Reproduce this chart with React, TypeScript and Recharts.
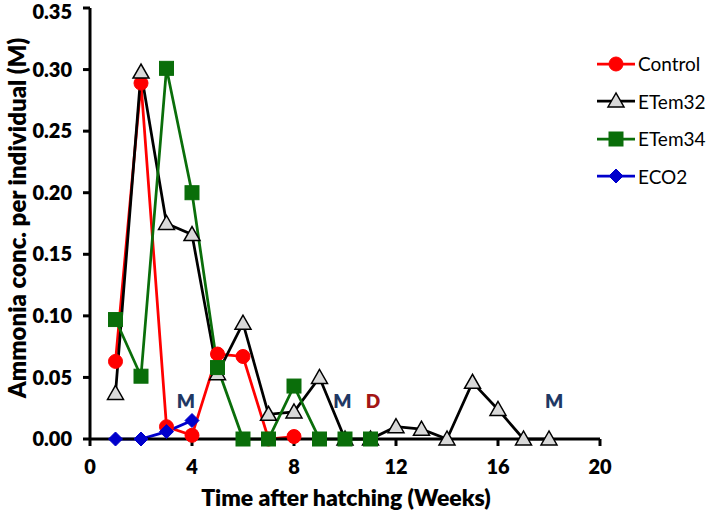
import { LineChart, Line, XAxis, YAxis, Legend, ReferenceDot } from "recharts"

const weeks = [1, 2, 3, 4, 5, 6, 7, 8, 9, 10, 11, 12, 13, 14, 15, 16, 17, 18]
const controlValues = [0.063, 0.289, 0.01, 0.003, 0.069, 0.067, 0, 0.002]
const etem32Values = [0.037, 0.298, 0.175, 0.166, 0.053, 0.094, 0.02, 0.022, 0.05, 0, 0, 0.01, 0.008, 0, 0.046, 0.024, 0, 0]
const etem34Values = [0.097, 0.051, 0.301, 0.2, 0.058, 0, 0, 0.043, 0, 0, 0]
const eco2Values = [0, 0, 0.006, 0.015]
const xTicks = [0, 4, 8, 12, 16, 20]
const yTicks = [0, 0.05, 0.1, 0.15, 0.2, 0.25, 0.3, 0.35]
const notes = [
    { week: 3.76, value: 0.031, text: "M", color: "#1f3864" },
    { week: 9.9, value: 0.031, text: "M", color: "#1f3864" },
    { week: 11.1, value: 0.031, text: "D", color: "#a31515" },
    { week: 18.2, value: 0.031, text: "M", color: "#1f3864" },
]

const toRows = (vals: number[]) => vals.map((v, i) => ({ week: weeks[i], value: v }))

const RED = "#ff0000"
const GREEN = "#0a6e0a"
const BLUE = "#0000cc"
const FONT = "Lato, 'Liberation Sans', sans-serif"

type Kind = "circle" | "triangle" | "square" | "diamond"

const Marker = ({ kind, cx, cy }: { kind: Kind; cx: number; cy: number }) => {
    if (kind === "circle") return <circle cx={cx} cy={cy} r={7} fill={RED} stroke={RED} strokeWidth={1} />
    if (kind === "triangle")
        return (
            <polygon
                points={`${cx},${cy - 8} ${cx - 8},${cy + 6} ${cx + 8},${cy + 6}`}
                fill="#d9d9d9"
                stroke="#000"
                strokeWidth={1.5}
            />
        )
    if (kind === "square") return <rect x={cx - 7} y={cy - 7} width={14} height={14} fill={GREEN} stroke={GREEN} />
    return <polygon points={`${cx},${cy - 7} ${cx + 7},${cy} ${cx},${cy + 7} ${cx - 7},${cy}`} fill={BLUE} stroke={BLUE} />
}

const dotFor = (kind: Kind) => (p: any) => {
    if (p.cx == null || p.cy == null) return <g key={p.key} />
    return (
        <g key={`${kind}-${p.index}`}>
            <Marker kind={kind} cx={p.cx} cy={p.cy} />
        </g>
    )
}

const series = [
    { name: "Control", color: RED, kind: "circle" as Kind, values: controlValues },
    { name: "ETem32", color: "#000000", kind: "triangle" as Kind, values: etem32Values },
    { name: "ETem34", color: GREEN, kind: "square" as Kind, values: etem34Values },
    { name: "ECO2", color: BLUE, kind: "diamond" as Kind, values: eco2Values },
]

// legend drawn as plain html so it sits in the right gutter
const LegendBox = () => (
    <div style={{ fontFamily: FONT, fontSize: 19, color: "#000" }}>
        {series.map((s) => (
            <div key={s.name} style={{ display: "flex", alignItems: "center", height: 37.5 }}>
                <svg width={40} height={20} style={{ marginRight: 1 }}>
                    <line x1={0} y1={10} x2={38} y2={10} stroke={s.color} strokeWidth={2.75} />
                    <Marker kind={s.kind} cx={19} cy={10} />
                </svg>
                <span>{s.name}</span>
            </div>
        ))}
    </div>
)

const YLabel = () => (
    <text
        x={16}
        y={218}
        transform="rotate(-90 16 218)"
        textAnchor="middle"
        dominantBaseline="central"
        style={{ fontFamily: FONT, fontSize: 24, fontWeight: 800, fill: "#000" }}
    >
        Ammonia conc. per individual (M)
    </text>
)

const XLabel = () => (
    <text
        x={346}
        y={497}
        textAnchor="middle"
        dominantBaseline="central"
        style={{ fontFamily: FONT, fontSize: 23, fontWeight: 800, fill: "#000" }}
    >
        Time after hatching (Weeks)
    </text>
)

const Note = ({ cx, cy, text, color }: { cx?: number; cy?: number; text: string; color: string }) => (
    <text
        x={cx}
        y={cy}
        textAnchor="middle"
        dominantBaseline="central"
        style={{ fontFamily: FONT, fontSize: 19, fontWeight: 800, fill: color }}
    >
        {text}
    </text>
)

export default function App() {
    const tickStyle = { fontFamily: FONT, fontSize: 20, fontWeight: 800, fill: "#000" }
    return (
        <div style={{ position: "absolute", left: 0, top: 0, background: "#fff" }}>
            <LineChart width={709} height={515} margin={{ top: 8, right: 109, bottom: 0, left: 0 }}>
                <XAxis
                    type="number"
                    dataKey="week"
                    domain={[0, 20]}
                    ticks={xTicks}
                    allowDuplicatedCategory={false}
                    height={76}
                    tick={tickStyle}
                    tickMargin={14}
                    tickSize={7}
                    axisLine={{ stroke: "#000", strokeWidth: 3 }}
                    tickLine={{ stroke: "#000", strokeWidth: 3 }}
                    label={<XLabel />}
                />
                <YAxis
                    type="number"
                    domain={[0, 0.35]}
                    ticks={yTicks}
                    width={90}
                    tick={tickStyle}
                    tickFormatter={(v) => v.toFixed(2)}
                    tickMargin={11}
                    tickSize={7}
                    axisLine={{ stroke: "#000", strokeWidth: 3 }}
                    tickLine={{ stroke: "#000", strokeWidth: 3 }}
                    label={<YLabel />}
                />
                <Legend
                    layout="horizontal"
                    align="center"
                    verticalAlign="middle"
                    content={<LegendBox />}
                    wrapperStyle={{ left: 597, top: 45, width: 112 }}
                />
                {series.map((s) => (
                    <Line
                        key={s.name}
                        data={toRows(s.values)}
                        dataKey="value"
                        name={s.name}
                        stroke={s.color}
                        strokeWidth={2.75}
                        dot={dotFor(s.kind)}
                        activeDot={false}
                        isAnimationActive={false}
                    />
                ))}
                {notes.map((n, i) => (
                    <ReferenceDot
                        key={i}
                        x={n.week}
                        y={n.value}
                        r={0}
                        ifOverflow="visible"
                        shape={(p: any) => <Note cx={p.cx} cy={p.cy} text={n.text} color={n.color} />}
                    />
                ))}
            </LineChart>
        </div>
    )
}
